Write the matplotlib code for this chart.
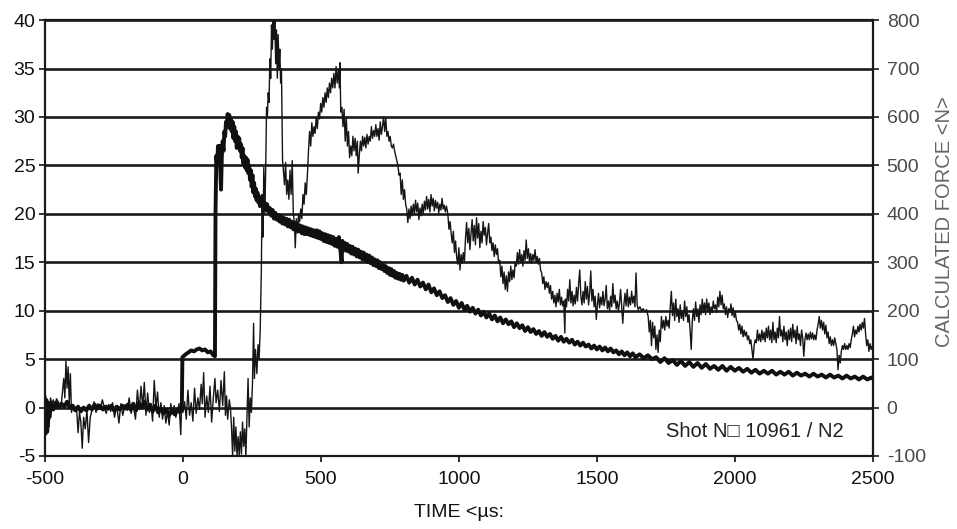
import numpy as np
import matplotlib
matplotlib.use('Agg')
import matplotlib.pyplot as plt

plt.rcParams['font.family'] = ['Liberation Sans', 'DejaVu Sans']
plt.rcParams['axes.unicode_minus'] = False

# noisy trace (time in us, value on left scale)
noisy = [
    (-500, -2.5), (-497, 1.2), (-494, -2.8), (-490, 0.8), (-485, -2.0), (-480, 1.0), (-475, 0.3),
    (-470, 0.8), (-465, 0.2), (-458, 0.9), (-450, 0.5), (-445, 0.0), (-440, 0.6), (-432, 3.0),
    (-428, 1.0), (-424, 4.8), (-420, 2.0), (-416, 4.2), (-412, 0.5), (-408, 3.5), (-404, -0.5),
    (-398, 0.2), (-392, -0.3), (-386, 0.1), (-380, -2.6), (-375, -0.5), (-370, -1.5), (-365, -4.2),
    (-360, -1.0), (-354, -2.2), (-348, -0.2), (-342, -3.6), (-336, -1.0), (-330, -0.3), (-322, 0.6),
    (-315, -0.5), (-308, 0.4), (-300, -0.2), (-292, 0.8), (-285, 0.0), (-278, -0.6), (-270, 0.3),
    (-262, -0.4), (-255, 0.5), (-248, -1.0), (-240, 0.2), (-232, -1.6), (-225, 0.4), (-218, -0.8),
    (-210, 0.3), (-202, -0.3), (-195, 1.0), (-188, -0.6), (-180, 0.2), (-172, -1.2), (-165, 1.8),
    (-158, -0.2), (-152, 2.2), (-146, 0.0), (-140, 2.6), (-134, -0.8), (-128, 1.5), (-122, -0.5),
    (-116, 0.4), (-110, -1.4), (-104, 2.8), (-98, 0.0), (-92, 1.6), (-86, -1.0), (-80, 0.5),
    (-74, -1.2), (-68, 0.2), (-62, -1.6), (-56, -0.4), (-50, -1.8), (-44, 0.4), (-38, -0.6),
    (-32, 0.2), (-26, -1.0), (-20, -0.4), (-14, 0.4), (-8, -2.8), (-4, 0.8), (0, -0.5), (6, 0.6),
    (12, -1.2), (18, 1.8), (24, -0.8), (30, 0.5), (36, -1.4), (42, 2.0), (48, -0.6), (54, 1.0),
    (60, -0.2), (66, 2.4), (70, 0.4), (75, 3.6), (80, -1.0), (86, 1.2), (92, -0.5), (98, 2.2),
    (104, -1.5), (110, 1.0), (116, 3.0), (120, 0.5), (126, 1.8), (132, -0.4), (138, 2.8), (144, 0.2),
    (150, 3.7), (154, -0.8), (158, 1.2), (162, -1.2), (168, 0.8), (172, 0.0), (176, -2.0), (180, -5.0),
    (184, -1.0), (188, -4.5), (192, -2.0), (196, -5.0), (200, -3.0), (204, -5.0), (208, -2.5),
    (212, -4.8), (216, -1.5), (220, -4.0), (224, -2.2), (228, -5.0), (232, -1.0), (236, 3.0),
    (240, -2.0), (244, 1.0), (248, -0.5), (252, 2.5), (256, 8.7), (259, 3.0), (263, 6.0), (268, 3.5),
    (272, 6.5), (276, 5.0), (280, 8.0), (284, 14.0), (287, 22.0), (290, 17.6), (293, 24.8), (297, 20.0),
    (300, 25.0), (303, 31.0), (306, 30.0), (309, 32.5), (312, 31.5), (315, 36.0), (318, 34.0),
    (321, 39.5), (324, 37.0), (327, 40.0), (330, 38.0), (333, 40.0), (336, 35.5), (339, 39.0),
    (342, 34.0), (345, 38.5), (348, 35.0), (351, 37.0), (354, 33.5), (357, 35.0), (361, 25.5),
    (364, 24.5), (368, 23.0), (372, 25.3), (376, 22.0), (380, 23.5), (384, 21.5), (388, 24.5),
    (392, 22.0), (396, 25.5), (400, 20.0), (404, 19.1), (407, 16.5), (411, 19.5), (415, 18.0),
    (419, 20.0), (423, 19.2), (427, 20.5), (431, 19.5), (435, 22.0), (439, 21.0), (443, 23.2),
    (447, 22.0), (451, 24.0), (455, 26.5), (459, 28.5), (463, 27.0), (467, 29.4), (471, 28.0),
    (475, 29.0), (479, 28.3), (483, 30.0), (487, 28.8), (491, 30.5), (495, 29.8), (499, 31.4),
    (503, 30.5), (507, 32.0), (511, 31.0), (515, 32.5), (519, 31.5), (523, 33.0), (527, 32.0),
    (531, 33.5), (535, 32.5), (539, 34.0), (543, 33.0), (547, 34.5), (551, 33.0), (555, 35.2),
    (559, 33.5), (563, 34.8), (567, 33.0), (569, 35.6), (572, 30.5), (576, 31.0), (580, 29.0),
    (584, 30.8), (588, 27.5), (592, 30.0), (596, 27.0), (600, 28.5), (604, 25.8), (608, 27.0),
    (612, 26.0), (616, 28.0), (620, 26.5), (624, 27.8), (628, 26.0), (632, 27.5), (635, 24.2),
    (639, 26.0), (643, 27.5), (647, 26.5), (651, 28.0), (655, 27.0), (659, 27.9), (663, 26.8),
    (667, 28.2), (671, 27.2), (675, 28.0), (679, 27.5), (683, 29.0), (687, 27.8), (691, 28.6),
    (695, 28.0), (699, 29.2), (703, 28.0), (707, 28.8), (711, 27.6), (715, 29.5), (719, 28.2),
    (723, 29.0), (727, 30.0), (731, 28.5), (735, 29.9), (739, 28.0), (743, 28.5), (747, 27.5),
    (751, 28.0), (755, 27.0), (759, 26.8), (763, 27.2), (767, 26.5), (771, 26.0), (775, 25.5),
    (779, 25.0), (783, 24.0), (787, 24.2), (791, 22.0), (795, 23.5), (799, 21.5), (803, 22.5),
    (807, 21.0), (811, 20.5), (815, 19.1), (819, 20.5), (823, 19.5), (827, 20.8), (831, 19.8),
    (835, 21.0), (839, 20.0), (843, 21.4), (847, 20.2), (851, 21.1), (855, 19.4), (859, 20.6),
    (863, 19.8), (867, 21.0), (871, 20.0), (875, 21.3), (879, 20.4), (883, 21.8), (887, 20.5),
    (891, 21.5), (895, 20.2), (899, 22.0), (903, 20.8), (907, 21.6), (911, 20.3), (915, 21.4),
    (919, 20.6), (923, 21.2), (927, 20.1), (931, 21.0), (935, 20.4), (939, 21.6), (943, 20.5),
    (947, 20.9), (951, 20.2), (955, 20.8), (960, 20.0), (964, 18.4), (968, 19.2), (972, 18.0),
    (976, 17.0), (980, 18.2), (984, 16.0), (988, 17.2), (992, 15.5), (996, 14.8), (1000, 16.5),
    (1004, 14.2), (1008, 15.8), (1012, 14.9), (1016, 16.0), (1020, 15.0), (1024, 17.5), (1028, 19.1),
    (1032, 17.0), (1036, 18.5), (1040, 16.3), (1044, 18.0), (1048, 19.4), (1052, 17.2), (1056, 18.8),
    (1060, 16.8), (1064, 19.6), (1068, 17.5), (1072, 19.0), (1076, 16.5), (1080, 18.2), (1084, 17.0),
    (1088, 19.2), (1092, 17.8), (1096, 18.6), (1100, 16.8), (1104, 18.0), (1108, 19.0), (1112, 17.0),
    (1116, 17.6), (1120, 16.2), (1124, 17.0), (1128, 15.6), (1132, 16.8), (1136, 15.8), (1140, 16.4),
    (1144, 14.9), (1148, 15.2), (1152, 13.5), (1156, 14.6), (1160, 12.8), (1164, 14.0), (1168, 12.2),
    (1172, 13.6), (1176, 12.0), (1180, 14.0), (1184, 13.0), (1188, 14.6), (1192, 13.2), (1196, 14.2),
    (1200, 13.4), (1204, 15.0), (1208, 14.6), (1212, 16.0), (1216, 14.8), (1220, 16.3), (1224, 15.0),
    (1228, 15.8), (1232, 14.6), (1236, 16.2), (1240, 15.2), (1244, 17.3), (1248, 15.4), (1252, 16.4),
    (1256, 15.0), (1260, 15.9), (1264, 14.9), (1268, 15.8), (1272, 15.2), (1276, 16.3), (1280, 15.0),
    (1284, 15.6), (1288, 14.8), (1292, 15.4), (1296, 14.2), (1300, 13.9), (1304, 12.8), (1308, 13.5),
    (1312, 12.2), (1316, 13.0), (1320, 12.4), (1324, 12.9), (1328, 11.8), (1332, 12.6), (1336, 11.2),
    (1340, 12.0), (1344, 10.8), (1348, 11.6), (1352, 10.4), (1356, 11.8), (1360, 10.9), (1364, 12.2),
    (1368, 10.6), (1372, 11.4), (1376, 10.5), (1380, 11.0), (1384, 7.7), (1386, 11.2), (1390, 10.4),
    (1394, 12.2), (1398, 11.0), (1402, 13.2), (1406, 10.8), (1410, 12.0), (1414, 10.5), (1418, 11.6),
    (1422, 10.7), (1426, 12.4), (1430, 11.0), (1434, 12.8), (1438, 14.2), (1442, 11.5), (1446, 10.6),
    (1450, 12.0), (1454, 10.8), (1458, 13.0), (1462, 11.2), (1466, 12.5), (1470, 10.6), (1474, 11.8),
    (1478, 14.1), (1482, 11.0), (1486, 12.2), (1490, 10.4), (1494, 11.5), (1498, 9.1), (1502, 10.6),
    (1506, 11.8), (1510, 10.3), (1514, 11.4), (1518, 10.6), (1522, 12.0), (1526, 10.5), (1530, 11.2),
    (1534, 12.6), (1538, 10.2), (1542, 11.0), (1546, 10.0), (1550, 11.5), (1554, 10.4), (1558, 12.8),
    (1562, 10.8), (1566, 11.6), (1570, 10.2), (1574, 11.0), (1578, 10.0), (1582, 10.8), (1586, 12.2),
    (1590, 10.4), (1594, 8.7), (1598, 10.6), (1602, 11.8), (1606, 10.5), (1610, 12.2), (1614, 10.4),
    (1618, 11.4), (1622, 10.6), (1626, 12.0), (1630, 10.8), (1634, 11.5), (1638, 10.4), (1642, 13.9),
    (1646, 10.6), (1650, 10.1), (1656, 10.4), (1662, 10.0), (1668, 10.2), (1674, 9.9), (1680, 10.1),
    (1686, 9.4), (1690, 7.8), (1694, 9.0), (1698, 6.4), (1702, 8.8), (1706, 7.2), (1710, 8.4),
    (1714, 6.0), (1718, 7.5), (1722, 5.7), (1726, 8.0), (1730, 6.8), (1734, 9.4), (1738, 8.2),
    (1742, 9.0), (1746, 8.0), (1750, 9.4), (1754, 8.4), (1758, 9.0), (1762, 8.2), (1766, 10.4),
    (1770, 12.0), (1774, 9.5), (1778, 10.8), (1782, 9.0), (1786, 11.2), (1790, 9.4), (1794, 10.2),
    (1798, 8.8), (1802, 10.6), (1806, 9.2), (1810, 10.0), (1814, 9.0), (1818, 11.0), (1822, 9.4),
    (1826, 10.4), (1830, 8.8), (1834, 9.6), (1838, 8.0), (1842, 6.0), (1846, 9.0), (1850, 10.2),
    (1854, 9.0), (1858, 10.9), (1862, 9.4), (1866, 10.2), (1870, 8.8), (1874, 10.6), (1878, 9.6),
    (1882, 11.2), (1886, 9.8), (1890, 10.8), (1894, 9.6), (1898, 11.2), (1902, 10.0), (1906, 10.8),
    (1910, 9.6), (1914, 10.4), (1918, 9.8), (1922, 11.0), (1926, 10.2), (1930, 10.6), (1934, 9.8),
    (1938, 11.4), (1942, 10.4), (1946, 12.0), (1950, 10.6), (1954, 11.6), (1958, 10.2), (1962, 10.7),
    (1966, 9.6), (1970, 10.4), (1974, 9.3), (1978, 10.2), (1982, 9.8), (1986, 10.7), (1990, 9.5),
    (1994, 10.3), (1998, 9.3), (2002, 9.8), (2006, 9.0), (2010, 8.8), (2014, 8.0), (2018, 8.6),
    (2022, 7.6), (2026, 8.4), (2030, 7.3), (2034, 8.0), (2038, 7.4), (2042, 7.8), (2046, 7.0),
    (2050, 7.4), (2054, 6.6), (2058, 7.0), (2062, 6.0), (2066, 5.0), (2070, 6.4), (2074, 7.0),
    (2078, 6.7), (2082, 8.0), (2086, 6.9), (2090, 7.6), (2094, 6.8), (2098, 8.0), (2102, 7.0),
    (2106, 7.8), (2110, 6.8), (2114, 8.2), (2118, 7.2), (2122, 8.4), (2126, 7.0), (2130, 8.0),
    (2134, 6.7), (2138, 8.8), (2142, 7.0), (2146, 7.8), (2150, 6.7), (2154, 8.2), (2158, 7.2),
    (2162, 9.4), (2166, 7.4), (2170, 8.0), (2174, 6.8), (2178, 8.4), (2182, 7.0), (2186, 7.8),
    (2190, 6.4), (2194, 8.0), (2198, 7.0), (2202, 8.2), (2206, 6.8), (2210, 8.6), (2214, 7.2),
    (2218, 8.0), (2222, 6.6), (2226, 8.4), (2230, 7.0), (2234, 7.6), (2238, 6.4), (2242, 8.0),
    (2246, 7.2), (2250, 5.3), (2254, 7.0), (2258, 7.7), (2262, 7.0), (2266, 7.6), (2270, 7.0),
    (2274, 7.8), (2278, 7.1), (2282, 7.7), (2286, 7.0), (2290, 7.5), (2294, 7.0), (2298, 8.0),
    (2302, 8.6), (2306, 9.4), (2310, 8.2), (2314, 9.0), (2318, 8.0), (2322, 8.8), (2326, 7.6),
    (2330, 8.5), (2334, 7.2), (2338, 7.8), (2342, 6.6), (2346, 7.3), (2350, 6.4), (2354, 7.0),
    (2358, 6.4), (2362, 7.2), (2366, 6.6), (2370, 6.0), (2374, 3.9), (2378, 5.4), (2382, 4.6),
    (2386, 5.8), (2390, 6.4), (2394, 6.0), (2398, 6.6), (2402, 6.0), (2406, 6.4), (2410, 6.0),
    (2414, 6.6), (2418, 6.2), (2422, 7.0), (2426, 7.6), (2430, 8.4), (2434, 7.3), (2438, 8.0),
    (2442, 7.6), (2446, 8.4), (2450, 7.8), (2454, 8.6), (2458, 8.0), (2462, 8.8), (2466, 8.2),
    (2470, 9.2), (2474, 7.6), (2478, 6.4), (2482, 7.0), (2486, 5.8), (2490, 6.6), (2494, 6.0),
    (2500, 6.5),
]

# thick decaying trace
thick = [
    (-500, -1.5), (-496, 0.8), (-492, -2.5), (-488, 0.5), (-484, -1.0), (-478, 0.4), (-470, -0.2),
    (-460, 0.5), (-450, 0.0), (-440, 0.4), (-430, 0.1), (-420, 0.6), (-410, 0.0), (-400, 0.2),
    (-390, -0.3), (-380, 0.1), (-370, -0.4), (-360, 0.0), (-350, -0.3), (-340, 0.2), (-330, -0.2),
    (-320, 0.3), (-310, -0.1), (-300, 0.2), (-290, -0.2), (-280, 0.1), (-270, -0.1), (-260, 0.2),
    (-250, -0.3), (-240, 0.1), (-230, -0.2), (-220, 0.2), (-210, -0.1), (-200, 0.3), (-190, -0.2),
    (-180, 0.4), (-170, -0.3), (-160, 0.5), (-150, 0.0), (-140, 0.6), (-130, -0.2), (-120, 0.3),
    (-110, -0.4), (-100, 0.2), (-90, -0.5), (-80, -0.1), (-70, -0.6), (-60, -0.2), (-50, -0.8),
    (-40, -0.3), (-30, -0.7), (-20, -0.2), (-10, -0.5), (-4, 0.0), (-2, 5.2), (10, 5.5), (20, 5.7),
    (30, 5.9), (40, 5.8), (50, 6.0), (60, 6.1), (70, 5.9), (80, 6.0), (90, 5.7), (100, 5.8),
    (110, 5.4), (116, 5.3), (118, 20.0), (121, 26.0), (124, 25.0), (127, 27.0), (130, 26.0),
    (133, 27.0), (136, 24.0), (138, 22.5), (141, 26.0), (144, 27.5), (147, 26.5), (150, 28.5),
    (153, 28.0), (156, 29.5), (159, 29.0), (162, 30.3), (165, 29.5), (168, 30.2), (171, 28.8),
    (174, 29.8), (177, 28.5), (180, 29.5), (183, 27.8), (186, 29.0), (189, 27.5), (192, 28.5),
    (195, 26.8), (198, 28.0), (201, 27.0), (204, 27.8), (207, 26.5), (210, 27.2), (213, 25.8),
    (216, 26.8), (219, 25.2), (222, 26.0), (225, 24.8), (228, 25.8), (231, 24.5), (234, 25.6),
    (237, 24.2), (240, 25.0), (243, 23.5), (246, 24.5), (249, 22.8), (252, 24.0), (255, 22.2),
    (258, 23.2), (261, 21.8), (264, 22.6), (267, 21.4), (270, 22.2), (273, 21.2), (276, 21.8),
    (279, 20.8), (282, 21.6), (285, 21.4), (290, 20.8), (295, 21.2), (300, 20.4), (305, 21.0),
    (310, 20.2), (315, 20.6), (320, 19.8), (325, 20.4), (330, 19.5), (335, 20.1), (340, 19.4),
    (345, 19.9), (350, 19.2), (355, 19.8), (360, 19.0), (365, 19.6), (370, 18.9), (375, 19.5),
    (380, 18.7), (385, 19.4), (390, 18.6), (395, 19.2), (400, 18.4), (405, 19.1), (410, 18.3),
    (415, 19.0), (420, 18.2), (425, 18.8), (430, 18.0), (435, 18.7), (440, 17.9), (445, 18.6),
    (450, 17.9), (455, 18.5), (460, 17.8), (465, 18.4), (470, 17.7), (475, 18.3), (480, 17.6),
    (485, 18.3), (490, 17.5), (495, 18.2), (500, 17.4), (505, 18.0), (510, 17.2), (515, 17.9),
    (520, 17.1), (525, 17.8), (530, 17.0), (535, 17.7), (540, 16.9), (545, 17.6), (550, 16.7),
    (555, 17.4), (560, 16.6), (565, 17.6), (570, 16.4), (575, 15.0), (578, 17.2), (582, 16.4),
    (586, 17.0), (590, 16.2), (595, 16.9), (600, 16.1), (605, 16.7), (610, 15.9), (615, 16.6),
    (620, 15.8), (625, 16.4), (630, 15.6), (635, 16.3), (640, 15.5), (645, 16.1), (650, 15.3),
    (655, 16.0), (660, 15.2), (665, 15.8), (670, 15.0), (675, 15.7), (680, 14.9), (685, 15.5),
    (690, 14.7), (695, 15.3), (700, 14.6), (705, 15.2), (710, 14.4), (715, 15.0), (720, 14.3),
    (725, 14.8), (730, 14.1), (735, 14.6), (740, 13.9), (745, 14.4), (750, 13.7), (755, 14.3),
    (760, 13.6), (765, 14.1), (770, 13.4), (775, 13.9), (780, 13.3), (785, 13.8), (790, 13.2),
    (795, 13.7), (800, 13.1), (810, 13.6), (820, 12.9), (830, 13.4), (840, 12.7), (850, 13.2),
    (860, 12.5), (870, 12.9), (880, 12.2), (890, 12.7), (900, 11.9), (910, 12.3), (920, 11.6),
    (930, 12.0), (940, 11.3), (950, 11.6), (960, 10.9), (970, 11.3), (980, 10.6), (990, 11.0),
    (1000, 10.3), (1010, 10.8), (1020, 10.1), (1030, 10.5), (1040, 9.9), (1050, 10.3), (1060, 9.7),
    (1070, 10.1), (1080, 9.5), (1090, 9.9), (1100, 9.3), (1110, 9.7), (1120, 9.1), (1130, 9.5),
    (1140, 8.9), (1150, 9.3), (1160, 8.7), (1170, 9.1), (1180, 8.6), (1190, 8.9), (1200, 8.3),
    (1210, 8.7), (1220, 8.2), (1230, 8.5), (1240, 7.9), (1250, 8.3), (1260, 7.8), (1270, 8.1),
    (1280, 7.6), (1290, 7.9), (1300, 7.4), (1310, 7.8), (1320, 7.3), (1330, 7.6), (1340, 7.1),
    (1350, 7.4), (1360, 6.9), (1370, 7.3), (1380, 6.8), (1390, 7.1), (1400, 6.7), (1410, 7.0),
    (1420, 6.5), (1430, 6.8), (1440, 6.4), (1450, 6.7), (1460, 6.3), (1470, 6.5), (1480, 6.1),
    (1490, 6.4), (1500, 6.0), (1510, 6.3), (1520, 5.9), (1530, 6.2), (1540, 5.8), (1550, 6.1),
    (1560, 5.7), (1570, 5.9), (1580, 5.5), (1590, 5.8), (1600, 5.4), (1610, 5.7), (1620, 5.3),
    (1630, 5.6), (1640, 5.2), (1655, 5.5), (1670, 5.1), (1685, 5.4), (1700, 5.0), (1715, 5.2),
    (1730, 4.7), (1745, 5.1), (1760, 4.6), (1775, 4.9), (1790, 4.4), (1805, 4.8), (1820, 4.3),
    (1835, 4.7), (1850, 4.2), (1865, 4.6), (1880, 4.1), (1895, 4.5), (1910, 4.0), (1925, 4.3),
    (1940, 3.9), (1955, 4.3), (1970, 3.8), (1985, 4.2), (2000, 3.8), (2015, 4.1), (2030, 3.7),
    (2045, 4.0), (2060, 3.6), (2075, 3.9), (2090, 3.5), (2105, 3.8), (2120, 3.5), (2135, 3.8),
    (2150, 3.4), (2165, 3.7), (2180, 3.4), (2195, 3.7), (2210, 3.3), (2225, 3.6), (2240, 3.3),
    (2255, 3.5), (2270, 3.2), (2285, 3.5), (2300, 3.2), (2315, 3.4), (2330, 3.1), (2345, 3.4),
    (2360, 3.1), (2375, 3.3), (2390, 3.0), (2405, 3.3), (2420, 3.0), (2435, 3.2), (2450, 2.9),
    (2465, 3.2), (2480, 2.9), (2495, 3.1), (2500, 3.0),
]

x_ticks = [-500, 0, 500, 1000, 1500, 2000, 2500]
left_ticks = [-5, 0, 5, 10, 15, 20, 25, 30, 35, 40]
right_ticks = [-100, 0, 100, 200, 300, 400, 500, 600, 700, 800]

noisy_t, noisy_v = zip(*noisy)
thick_t, thick_v = zip(*thick)

fig = plt.figure(figsize=(9.57, 5.29), dpi=100)
ax = fig.add_axes([0.047, 0.138, 0.865, 0.824])

ax.plot(noisy_t, noisy_v, color='#151515', lw=1.0, zorder=3)
ax.plot(thick_t, thick_v, color='#101010', lw=2.8, zorder=4)

ax.set_xlim(-500, 2500)
ax.set_ylim(-5, 40)
ax.set_xticks(x_ticks)
ax.set_yticks(left_ticks)
ax.yaxis.grid(True, color='#1a1a1a', lw=1.9)
ax.xaxis.grid(False)
ax.set_axisbelow(True)
for s in ax.spines.values():
    s.set_linewidth(1.6)
    s.set_color('#1a1a1a')
ax.tick_params(axis='both', direction='out', length=4, width=1.2, labelsize=14, colors='#111111')
ax.tick_params(axis='x', pad=7)
ax.tick_params(axis='y', pad=3)

ax2 = ax.twinx()
ax2.set_ylim(-100, 800)
ax2.set_yticks(right_ticks)
ax2.tick_params(axis='y', direction='out', length=4, width=1.2, labelsize=14, colors='#1a1a1a',
                labelcolor='#4a4a4a', pad=6)
for s in ax2.spines.values():
    s.set_visible(False)

ax.set_xlabel('TIME <\u00b5s:', fontsize=14, color='#111111', labelpad=11)
fig.text(944 / 957, 1 - 222 / 529, 'CALCULATED FORCE <N>', rotation=90, ha='center', va='center',
         fontsize=14.5, color='#666666')
ax.text(2395, -2.5, 'Shot N\u25a1 10961 / N2', ha='right', va='center', fontsize=14.5,
        color='#222222', family=['Liberation Sans', 'DejaVu Sans'], zorder=5)

fig.savefig('out.png', dpi=100)
